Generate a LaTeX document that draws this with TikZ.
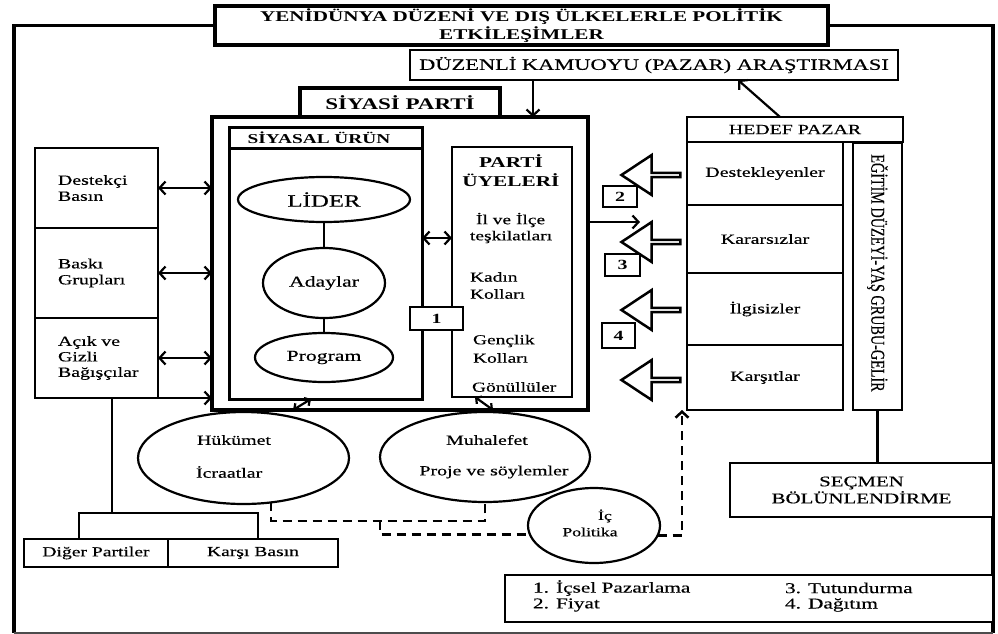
\documentclass[tikz,border=0pt]{standalone}
\usepackage{graphicx}
\usepackage{fontspec}
\setmainfont{Liberation Serif}[FakeStretch=1.42, UprightFeatures={FakeBold=0.4}]
\newfontfamily\uprightserif{Liberation Serif}[FakeBold=0.4]
\usetikzlibrary{arrows.meta,shapes.geometric,shapes.arrows}
\newcommand\fsz[2]{\fontsize{#1}{#2}\selectfont}

\begin{document}
\begin{tikzpicture}[x=1pt,y=-1pt,
  every node/.style={inner sep=0pt, outer sep=0pt, font=\fsz{14}{16}},
  box/.style={draw, rectangle, line width=2.5pt, fill=white, align=center},
  heavybox/.style={draw, rectangle, line width=4pt, align=center},
  oval/.style={draw, ellipse, line width=2.2pt},
  link/.style={line width=2.2pt},
  framestroke/.style={line width=3.6pt},
  arrowto/.style={-{Straight Barb[length=6pt,width=13pt]}},
  arrowboth/.style={{Straight Barb[length=6pt,width=13pt]}-{Straight Barb[length=6pt,width=13pt]}},
  smallboth/.style={{Straight Barb[length=4pt,width=9pt]}-{Straight Barb[length=4pt,width=9pt]}},
  dashlink/.style={line width=2.5pt, dash pattern=on 9pt off 6pt},
  blockarrow/.style={single arrow, draw, line width=2.5pt, fill=white,
    shape border rotate=180, minimum height=59pt, minimum width=40pt,
    single arrow tip angle=67, single arrow head extend=11pt,
    single arrow head indent=0pt},
  numbox/.style={box, font=\bfseries\fsz{14}{16}},
  itemtext/.style={anchor=west, font=\fsz{13.7}{16}}
]
\useasboundingbox (0,0) rectangle (998,634);

% ---------- title and outer frame ----------
\node[heavybox, fill=white, minimum width=613pt, minimum height=39pt,
  font=\bfseries\fsz{14.9}{18}] (title) at (521.5,25.5)
  {YENİDÜNYA DÜZENİ VE DIŞ ÜLKELERLE POLİTİK\\ETKİLEŞİMLER};
\coordinate (frameSW) at (14,633);
\coordinate (frameSE) at (993,633);
\draw[framestroke] (title.west) -| (frameSW);
\draw[framestroke] (frameSE) |- (title.east);
\draw[line width=1.5pt, black!70] (frameSW) -- (frameSE);

% ---------- survey ----------
\node[box, minimum width=488pt, minimum height=30pt, font=\fsz{15.8}{18}]
  (survey) at (654,65) {DÜZENLİ KAMUOYU (PAZAR) ARAŞTIRMASI};

% ---------- political party ----------
\node[heavybox, minimum width=200pt, minimum height=29pt,
  font=\bfseries\fsz{16.2}{18}] (partytab) at (400,102.5) {SİYASİ PARTİ};
\node[heavybox, minimum width=376pt, minimum height=293pt] (party) at (400,263.5) {};

\draw[link, arrowto] (survey.south -| 533,0) -- (party.north -| 533,0);

% product block
\node[box, line width=3pt, minimum width=193pt, minimum height=272pt] (urun) at (325.5,263) {};
\draw[line width=3pt] ([yshift=-21pt]urun.north west) -- ([yshift=-21pt]urun.north east);
\node[font=\bfseries\fsz{13.6}{16}] (urunhead) at (319,138) {SİYASAL ÜRÜN};

\node[oval, minimum width=172pt, minimum height=45pt, font=\fsz{17.5}{20}] (lider) at (324,199.5) {LİDER};
\node[oval, minimum width=122pt, minimum height=70pt, font=\fsz{15.3}{18}] (adaylar) at (324,283) {Adaylar};
\node[oval, minimum width=138pt, minimum height=49pt, font=\fsz{15.3}{18}] (program) at (324,357.5) {Program};
\draw[link] (lider) -- (adaylar);
\draw[link] (adaylar) -- (program);

% party members block
\node[box, minimum width=120pt, minimum height=250pt] (uyeler) at (512,272) {};
\node[font=\bfseries\fsz{15}{19}, align=center] (uyelerhead) at (511,171) {PARTİ\\ÜYELERİ};
\node[itemtext] (il)      at (476,220) {İl ve İlçe};
\node[itemtext] (teskil)  at (470,237) {teşkilatları};
\node[itemtext] (kadin)   at (470,277) {Kadın};
\node[itemtext] (kadinK)  at (470,294) {Kolları};
\node[itemtext] (genc)    at (473,341) {Gençlik};
\node[itemtext] (gencK)   at (473,358) {Kolları};
\node[itemtext] (gonul)   at (472,387) {Gönüllüler};

\draw[link, arrowboth] (urun.east |- 0,238) -- (uyeler.west |- 0,238);
\node[numbox, minimum width=53pt, minimum height=23pt] (n1) at (436.5,318.5) {1};

% ---------- supporting groups on the left ----------
\node[box, minimum height=80pt, text width=77pt, inner xsep=23pt, align=left] (destek) at (96.5,188) {Destekçi\\Basın};
\node[box, minimum height=90pt, text width=77pt, inner xsep=23pt, align=left] (baski) at (96.5,273) {Baskı\\Grupları};
\node[box, minimum height=80pt, text width=77pt, inner xsep=23pt, align=left, font=\fsz{14}{15.5}] (bagis) at (96.5,358) {Açık ve\\Gizli\\Bağışçılar};

\draw[link, arrowboth] (destek.east) -- (destek.east -| party.west);
\draw[link, arrowboth] (baski.east) -- (baski.east -| party.west);
\draw[link, arrowboth] (bagis.east) -- (bagis.east -| party.west);
\draw[link, arrowto] (bagis.south east) -- (bagis.south east -| party.west);

% ---------- opposing groups ----------
\node[box, minimum width=144pt, minimum height=28pt, font=\fsz{13.8}{16}] (diger) at (96,553) {Diğer Partiler};
\node[box, minimum width=170pt, minimum height=28pt, font=\fsz{13.8}{16}] (karsi) at (253,553) {Karşı Basın};
\coordinate (brL) at (79,513);
\coordinate (brR) at (258,513);
\draw[link] (bagis.south -| 112,0) -- (brL -| 112,0);
\draw[link] (brL |- diger.north) -- (brL) -- (brR) -- (brR |- karsi.north);

% ---------- government / opposition / domestic politics ----------
\node[oval, minimum width=211pt, minimum height=92pt] (hukumet) at (243.5,458) {};
\node[anchor=west] (hukT) at (197,440) {Hükümet};
\node[anchor=west] (hukI) at (196,472) {İcraatlar};

\node[oval, minimum width=210pt, minimum height=90pt] (muhalefet) at (485,457) {};
\node (muhT) at (487,440) {Muhalefet};
\node (muhP) at (494,472) {Proje ve söylemler};

\draw[link, smallboth] (party.south -| 293,0) -- (urun.south -| 311,0);
\draw[link, smallboth] (uyeler.south -| 475,0) -- (party.south -| 493,0);

\node[oval, minimum width=132pt, minimum height=75pt] (icpol) at (594,525.5) {};
\node[font=\fsz{12.5}{15.5}] (icT) at (605,516) {İç};
\node[font=\fsz{12.5}{15.5}] (icP) at (590,532) {Politika};

\coordinate (dashMid) at (380,521);
\draw[dashlink] (hukumet.302) -- (hukumet.302 |- dashMid) -| (muhalefet.south);
\draw[dashlink] (dashMid) -- (dashMid |- icpol.188.5) -- (icpol.188.5);

% ---------- target market ----------
\node[box, minimum width=216pt, minimum height=25pt] (hedef) at (795,129.5) {HEDEF PAZAR};
\node[box, minimum width=156pt, minimum height=63pt] (destekleyen) at (765,173.5) {Destekleyenler};
\node[box, minimum width=156pt, minimum height=68pt] (kararsiz) at (765,239) {Kararsızlar};
\node[box, minimum width=156pt, minimum height=72pt] (ilgisiz) at (765,309) {İlgisizler};
\node[box, minimum width=156pt, minimum height=65pt] (karsit) at (765,377.5) {Karşıtlar};
\node[box, minimum width=49pt, minimum height=267pt] (egitim) at (877.5,276.5) {};
\node[rotate=-90, font=\uprightserif\fsz{14.2}{16}] (egitimT) at (877.5,273)
  {\scalebox{1}[1.38]{EĞİTİM DÜZEYİ-YAŞ GRUBU-GELİR}};

\draw[link, arrowto] (hedef.north -| 780,0) -- (survey.south -| 738,0);
\draw[dashlink, arrowto] (icpol.351.5) -| ([xshift=-5pt]karsit.south west);

% block arrows toward the party
\node[blockarrow] (ba2) at (652.5,175) {};
\node[blockarrow] (ba3) at (652.5,242) {};
\node[blockarrow] (ba4) at (652.5,310) {};
\node[blockarrow] (ba5) at (652.5,380) {};
\node[numbox, minimum width=34pt, minimum height=21pt] (n2) at (620,196.5) {2};
\node[numbox, minimum width=35pt, minimum height=22pt] (n3) at (622.5,265) {3};
\node[numbox, minimum width=33pt, minimum height=25pt] (n4) at (618.5,335.5) {4};

\coordinate (pzTip) at (640,222);
\draw[link, arrowto] (party.east |- pzTip) -- (pzTip);

% ---------- segmentation ----------
\node[box, minimum width=263pt, minimum height=54pt, font=\fsz{14.7}{17}] (secmen) at (861.5,490) {SEÇMEN\\BÖLÜNLENDİRME};
\draw[link] (egitim.south) -- (egitim.south |- secmen.north);

% ---------- legend ----------
\node[box, minimum width=488pt, minimum height=47pt] (legend) at (749,598.5) {};
\node[anchor=west, font=\fsz{15}{17}] (lg1) at (533,588) {1. İçsel Pazarlama};
\node[anchor=west, font=\fsz{15}{17}] (lg2) at (533,605) {2. Fiyat};
\node[anchor=west, font=\fsz{15}{17}] (lg3) at (785,588) {3. Tutundurma};
\node[anchor=west, font=\fsz{15}{17}] (lg4) at (785,605) {4. Dağıtım};
\end{tikzpicture}
\end{document}
